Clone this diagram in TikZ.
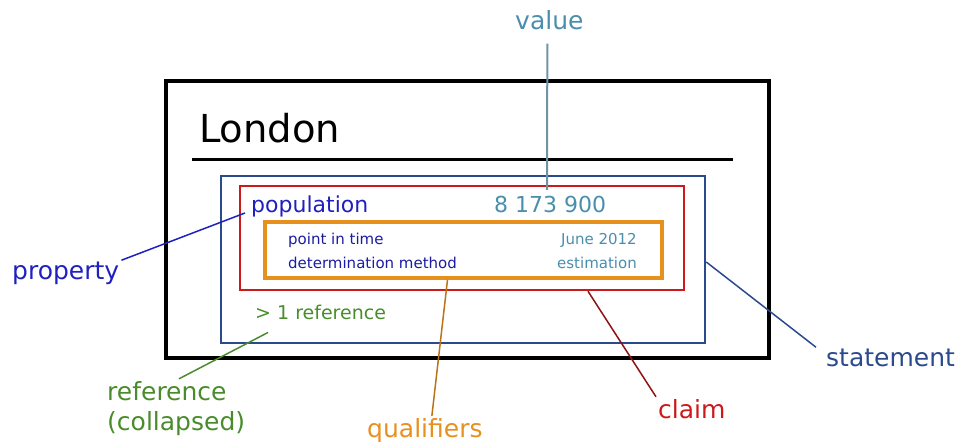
\documentclass[tikz,border=0pt]{standalone}
\usepackage{fontspec}
\setmainfont{DejaVu Sans}
\usetikzlibrary{positioning}
\definecolor{propblue}{HTML}{2020C0}
\definecolor{valblue}{HTML}{4A8EAE}
\definecolor{valline}{HTML}{7293A6}
\definecolor{stmtblue}{HTML}{2B4A8E}
\definecolor{claimred}{HTML}{CC1A1A}
\definecolor{qualorange}{HTML}{E8901E}
\definecolor{refgreen}{HTML}{4A8C2C}
\newcommand{\bigfont}{\fontsize{38.5bp}{42bp}\selectfont}
\newcommand{\labelfont}{\fontsize{25bp}{30bp}\selectfont}
\newcommand{\entryfont}{\fontsize{22bp}{26bp}\selectfont}
\newcommand{\reffont}{\fontsize{19bp}{22bp}\selectfont}
\newcommand{\qualfont}{\fontsize{15bp}{17bp}\selectfont}

\begin{document}
\begin{tikzpicture}[x=1bp,y=-1bp,
  box/.style={draw=#1, line width=2.5bp, inner sep=0pt},
  lbl/.style={anchor=base west, inner sep=2bp},
  leader/.style={draw=#1, line width=1.5bp}]
  \useasboundingbox (0,0) rectangle (959,442);
  % item
  \node[box=black, line width=3.5bp, minimum width=603bp, minimum height=277bp] (item) at (467.5,219.5) {};
  \node[lbl, inner sep=0pt, font=\bigfont] (london) at (199,143) {London};
  \draw[line width=3bp] (192,160) -- (733,160);
  % statement, claim, qualifiers
  \node[box=stmtblue, minimum width=484bp, minimum height=167bp] (stmtbox) at (463,259.5) {};
  \node[box=claimred, minimum width=444bp, minimum height=104bp] (claimbox) at (462,238) {};
  \node[box=qualorange, line width=3.5bp, minimum width=397bp, minimum height=56bp] (qualbox) at (463.5,250) {};
  \node[lbl, font=\entryfont, text=propblue] (population) at (249,213) {population};
  \node[lbl, font=\entryfont, text=valblue] (number) at (492,213) {8 173 900};
  \foreach \y/\p/\v [count=\i] in {245/point in time/June 2012, 269/determination method/estimation} {
    \node[lbl, font=\qualfont, text=propblue!85!black] (qp\i) at (286,\y) {\p};
    \node[anchor=base east, inner sep=2bp, font=\qualfont, text=valblue] (qv\i) at (639,\y) {\v};
  }
  \node[lbl, font=\reffont, text=refgreen] (onemore) at (253,320) {> 1 reference};
  % labels round the item
  \node[lbl, font=\labelfont, text=valblue] (value) at (513,30) {value};
  \node[lbl, font=\labelfont, text=propblue] (property) at (10,280) {property};
  \node[lbl, font=\labelfont, text=refgreen] (reference) at (105,400) {reference};
  \node[lbl, font=\labelfont, text=refgreen] (collapsed) at (105,430) {(collapsed)};
  \node[lbl, font=\labelfont, text=qualorange] (qualifiers) at (365,437) {qualifiers};
  \node[lbl, font=\labelfont, text=claimred] (claim) at (656,418) {claim};
  \node[lbl, font=\labelfont, text=stmtblue] (statement) at (824,367) {statement};
  % leaders
  \coordinate (valtip) at (547,190);
  \draw[leader=valline, line width=2bp] ([xshift=-2bp,yshift=-11bp]value.south) -- (valtip);
  \draw[leader=propblue] (property.north east) -- ([xshift=-4bp]population.base west);
  \draw[leader=refgreen] ([xshift=74bp]reference.north west) -- ([xshift=15bp,yshift=-10bp]onemore.south west);
  \draw[leader=qualorange!80!black] ([xshift=7bp]qualifiers.north) -- ([xshift=-16bp]qualbox.south);
  \draw[leader=claimred!70!black] (claim.north west) -- ([xshift=126bp]claimbox.south);
  \draw[leader=stmtblue] ([xshift=-8bp]statement.north west) -- ([yshift=-2.5bp]stmtbox.east);
\end{tikzpicture}
\end{document}
